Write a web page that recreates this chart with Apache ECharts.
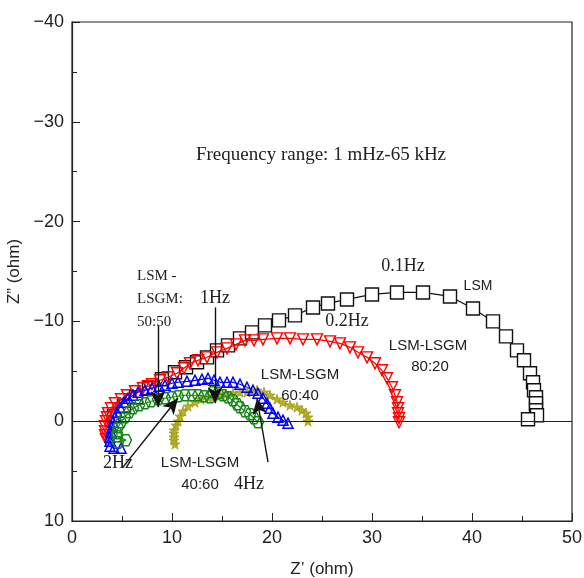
<!DOCTYPE html>
<html>
<head>
<meta charset="utf-8">
<script src="https://cdn.jsdelivr.net/npm/echarts@6/dist/echarts.min.js"></script>
<style>
  html, body { margin: 0; padding: 0; background: #fff; }
  #main { width: 584px; height: 578px; }
</style>
</head>
<body>
<div id="main"></div>
<script>
// impedance data: [Z', Z'']
var lsm = [
  [4.2, -0.5], [5.2, -1.5], [6.4, -2.4], [7.7, -3.3], [9.0, -4.2], [10.3, -4.9], [11.4, -5.4],
  [12.5, -5.9], [13.5, -6.4], [14.5, -7.1], [15.6, -7.6], [16.8, -8.3], [18.0, -8.9],
  [19.3, -9.6], [20.7, -10.1], [22.3, -10.6], [24.1, -11.4], [25.6, -11.8], [27.5, -12.2],
  [30.0, -12.7], [32.5, -12.9], [35.1, -12.9], [37.8, -12.5], [40.1, -11.3], [42.1, -10.0],
  [43.4, -8.5], [44.5, -7.1], [45.2, -6.1], [45.8, -4.8], [46.1, -3.9], [46.2, -3.1],
  [46.4, -2.4], [46.4, -1.8], [46.4, -1.1], [46.5, -0.6], [45.6, -0.2]
];
var lsm8020 = [
  [3.4, 1.8], [3.3, 1.4], [3.3, 1.0], [3.3, 0.5], [3.4, 0.0], [3.5, -0.4], [3.6, -0.8],
  [3.9, -1.3], [4.3, -1.8], [4.9, -2.2], [5.5, -2.6], [6.3, -3.0], [7.1, -3.3], [7.6, -3.5],
  [8.0, -3.7], [8.8, -4.1], [9.6, -4.4], [10.5, -4.8], [11.2, -5.3], [11.8, -5.8],
  [12.6, -6.1], [13.5, -6.4], [14.5, -6.9], [15.5, -7.3], [16.4, -7.7], [17.3, -8.1],
  [18.2, -8.1], [19.1, -8.2], [20.5, -8.3], [21.8, -8.3], [23.1, -8.2], [24.5, -8.2],
  [25.8, -8.0], [26.8, -7.8], [27.8, -7.4], [28.6, -6.9], [29.5, -6.4], [30.3, -5.8],
  [31.0, -5.1], [31.5, -4.3], [32.0, -3.4], [32.3, -2.6], [32.5, -1.9], [32.6, -1.3],
  [32.6, -0.8], [32.7, -0.3], [32.7, 0.1]
];
var lsm6040 = [
  [4.9, 2.7], [4.2, 2.7], [3.8, 2.5], [3.8, 2.0], [3.8, 1.6], [3.9, 1.1], [4.0, 0.6],
  [4.1, 0.1], [4.3, -0.4], [4.5, -0.9], [4.8, -1.4], [5.2, -1.9], [5.6, -2.3], [6.1, -2.6],
  [6.6, -2.9], [7.3, -3.1], [8.0, -3.3], [8.7, -3.5], [9.3, -3.6], [10.0, -3.8],
  [10.6, -3.9], [11.5, -4.0], [12.3, -4.1], [13.0, -4.2], [13.6, -4.3], [14.2, -4.1],
  [14.8, -3.9], [15.5, -3.9], [16.1, -3.9], [16.8, -3.7], [17.5, -3.4], [18.1, -3.1],
  [18.6, -2.8], [19.1, -2.3], [19.5, -1.8], [19.8, -1.3], [20.1, -0.8], [20.6, -0.4],
  [21.1, -0.1], [21.6, 0.2]
];
var lsm5050 = [
  [4.6, 2.1], [5.4, 1.9], [4.5, 1.5], [4.5, 1.2], [4.6, 0.6], [4.9, 0.1], [5.3, -0.4],
  [5.7, -0.9], [6.1, -1.3], [6.7, -1.6], [7.3, -1.8], [7.9, -2.0], [8.6, -2.2], [9.3, -2.3],
  [10.0, -2.4], [10.6, -2.5], [11.3, -2.6], [12.0, -2.6], [12.6, -2.6], [13.2, -2.5],
  [13.8, -2.4], [14.1, -2.9], [14.6, -2.8], [15.1, -2.6], [15.6, -2.4], [16.1, -2.1],
  [16.5, -1.7], [16.8, -1.4], [17.3, -1.0], [17.8, -0.7], [18.2, -0.3], [18.6, 0.1]
];
var lsm4060 = [
  [10.3, 2.3], [10.2, 1.9], [10.2, 1.6], [10.2, 1.2], [10.2, 0.9], [10.4, 0.4], [10.6, 0.0],
  [10.8, -0.5], [11.1, -1.0], [11.6, -1.5], [12.3, -1.9], [12.9, -2.2], [13.6, -2.4],
  [14.2, -2.5], [14.8, -2.6], [15.4, -2.7], [16.1, -2.8], [16.8, -2.9], [17.5, -2.9],
  [18.0, -3.0], [18.5, -3.1], [19.2, -2.9], [19.8, -2.6], [20.5, -2.2], [21.1, -1.9],
  [21.8, -1.6], [22.5, -1.4], [23.0, -1.1], [23.4, -0.8], [23.6, -0.4], [23.6, 0.0]
];

// annotation arrows in data coordinates: [from, to]
var arrows = [
  [[14.3, -11.4], [14.3, -1.8]],
  [[8.6, -9.6], [8.6, -1.4]],
  [[5.1, 4.6], [10.6, -2.3]],
  [[19.6, 4.1], [18.5, -2.3]]
];

var serif = '"Liberation Serif", "DejaVu Serif", serif';
var sans = '"Liberation Sans", Arial, sans-serif';
var hexagon = 'path://M1,0 L0.5,0.866 L-0.5,0.866 L-1,0 L-0.5,-0.866 L0.5,-0.866 Z';
var star = 'path://M0,-1 L0.22,-0.3 L0.95,-0.31 L0.36,0.12 L0.59,0.81 L0,0.38 L-0.59,0.81 L-0.36,0.12 L-0.95,-0.31 L-0.22,-0.3 Z';

function minus(v) {
  return String(v).replace('-', '\u2212');
}

function txt(text, x, y, font, size, align) {
  return {
    type: 'text', x: x, y: y, z: 100,
    style: {
      text: text, fill: '#222', font: size + 'px ' + font,
      textAlign: align || 'center', textVerticalAlign: 'middle'
    }
  };
}

var myChart = echarts.init(document.getElementById('main'));

var option = {
  animation: false,
  backgroundColor: '#fff',
  grid: {
    left: 72, right: 12, top: 22, bottom: 57,
    outerBoundsMode: 'none', containLabel: false,
    show: true, borderColor: '#222', borderWidth: 1.2, backgroundColor: 'transparent'
  },
  xAxis: {
    type: 'value', min: 0, max: 50, interval: 10,
    name: 'Z\u2019 (ohm)', nameLocation: 'middle', nameGap: 40,
    nameTextStyle: { fontFamily: sans, fontSize: 17, color: '#222' },
    axisLine: { onZero: false, lineStyle: { color: '#222', width: 1.2 } },
    axisTick: { inside: true, length: 8, lineStyle: { color: '#222' } },
    minorTick: { show: true, splitNumber: 2, length: 5, lineStyle: { color: '#222' } },
    axisLabel: { fontFamily: sans, fontSize: 18, color: '#222', margin: 8 },
    splitLine: { show: false }
  },
  yAxis: {
    type: 'value', min: -40, max: 10, interval: 10, inverse: true,
    name: 'Z\u201D (ohm)', nameLocation: 'middle', nameGap: 46, nameRotate: 90,
    nameTextStyle: { fontFamily: sans, fontSize: 17, color: '#222' },
    axisLine: { onZero: false, lineStyle: { color: '#222', width: 1.2 } },
    axisTick: { inside: true, length: 8, lineStyle: { color: '#222' } },
    minorTick: { show: true, splitNumber: 2, length: 5, lineStyle: { color: '#222' } },
    axisLabel: { fontFamily: sans, fontSize: 18, color: '#222', margin: 8, formatter: minus },
    splitLine: { show: false }
  },
  series: [
    {
      name: 'LSM-LSGM 40:60', type: 'line', data: lsm4060, z: 3,
      symbol: star, symbolSize: 10,
      lineStyle: { color: '#a9a116', width: 1.2 },
      itemStyle: { color: '#b8b030', borderColor: '#a09a10', borderWidth: 0.8 }
    },
    {
      name: 'LSM-LSGM 50:50', type: 'line', data: lsm5050, z: 4,
      symbol: hexagon, symbolSize: 11,
      lineStyle: { color: '#17861a', width: 1.2 },
      itemStyle: { color: 'rgba(255,255,255,0)', borderColor: '#17861a', borderWidth: 1.5 }
    },
    {
      name: 'LSM-LSGM 60:40', type: 'line', data: lsm6040, z: 3,
      symbol: 'triangle', symbolSize: 10,
      lineStyle: { color: '#0000ff', width: 1.2 },
      itemStyle: { color: 'rgba(255,255,255,0)', borderColor: '#0000ff', borderWidth: 1.5 }
    },
    {
      name: 'LSM-LSGM 80:20', type: 'line', data: lsm8020, z: 2,
      symbol: 'triangle', symbolRotate: 180, symbolSize: 11,
      lineStyle: { color: '#ff0000', width: 1.2 },
      itemStyle: { color: 'rgba(255,255,255,0)', borderColor: '#ff0000', borderWidth: 1.4 }
    },
    {
      name: 'LSM', type: 'line', data: lsm, z: 1,
      symbol: 'rect', symbolSize: 13,
      lineStyle: { color: '#111', width: 1.2 },
      itemStyle: { color: '#fff', borderColor: '#111', borderWidth: 1.4 },
      markLine: {
        silent: true, symbol: 'none', label: { show: false },
        lineStyle: { color: '#222', width: 1.2, type: 'solid' },
        data: [{ yAxis: 0 }]
      }
    },
    {
      name: 'arrows', type: 'line', data: [], z: 10,
      markLine: {
        silent: true, symbol: ['none', 'arrow'], symbolSize: [11, 16],
        label: { show: false },
        lineStyle: { color: '#111', width: 1.4, type: 'solid' },
        data: arrows.map(function (a) {
          return [{ coord: a[0] }, { coord: a[1] }];
        })
      }
    }
  ],
  graphic: [
    txt('Frequency range: 1 mHz-65 kHz', 321, 155, serif, 19),
    txt('0.1Hz', 403, 266, serif, 18),
    txt('LSM', 478, 286, sans, 14),
    txt('0.2Hz', 347, 321, serif, 18),
    txt('LSM-LSGM', 428, 346, sans, 15),
    txt('80:20', 430, 367, sans, 15),
    txt('LSM-LSGM', 300, 375, sans, 15),
    txt('60:40', 300, 396, sans, 15),
    txt('LSM -', 137, 276, serif, 15, 'left'),
    txt('LSGM:', 137, 299, serif, 15, 'left'),
    txt('50:50', 137, 322, serif, 15, 'left'),
    txt('1Hz', 215, 298, serif, 18),
    txt('2Hz', 118, 463, serif, 18),
    txt('LSM-LSGM', 200, 463, sans, 15),
    txt('40:60', 200, 485, sans, 15),
    txt('4Hz', 249, 484, serif, 18)
  ]
};

myChart.setOption(option);
</script>
</body>
</html>
